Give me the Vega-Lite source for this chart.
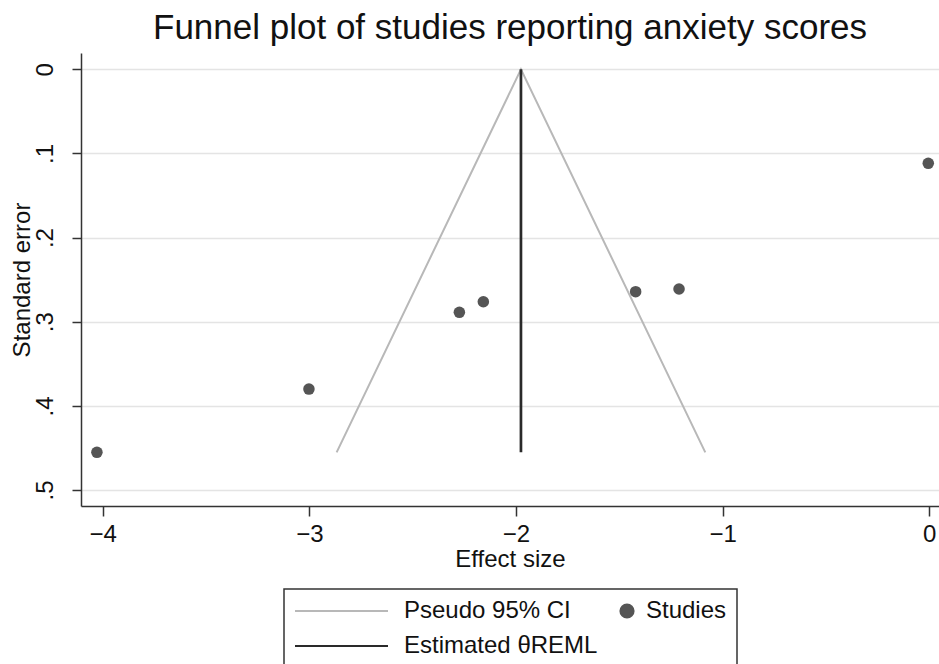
{
  "$schema": "https://vega.github.io/schema/vega-lite/v6.json",
  "width": 858,
  "height": 453,
  "autosize": "none",
  "padding": {"left": 81, "top": 53, "right": 0, "bottom": 158},
  "background": "white",
  "title": {
    "text": "Funnel plot of studies reporting anxiety scores",
    "font": "Liberation Sans",
    "fontSize": 35,
    "fontWeight": "normal",
    "color": "#111111",
    "anchor": "middle",
    "baseline": "alphabetic",
    "offset": -21
  },
  "config": {
    "view": {"stroke": null},
    "font": "Liberation Sans",
    "axis": {
      "labelFont": "Liberation Sans",
      "titleFont": "Liberation Sans",
      "labelFontSize": 24,
      "titleFontSize": 24,
      "titleFontWeight": "normal",
      "labelColor": "#111111",
      "titleColor": "#111111",
      "domainColor": "#333333",
      "domainWidth": 1.5,
      "tickColor": "#333333",
      "tickWidth": 1.5,
      "labelFlush": false,
      "labelOverlap": false,
      "labelBound": false
    }
  },
  "data": {
    "values": [
      {"series": "Studies", "es": -4.028, "se": 0.4552, "ord": 0},
      {"series": "Studies", "es": -3.002, "se": 0.380, "ord": 0},
      {"series": "Studies", "es": -2.274, "se": 0.2888, "ord": 0},
      {"series": "Studies", "es": -2.158, "se": 0.2762, "ord": 0},
      {"series": "Studies", "es": -1.421, "se": 0.2643, "ord": 0},
      {"series": "Studies", "es": -1.211, "se": 0.2611, "ord": 0},
      {"series": "Studies", "es": -0.005, "se": 0.1117, "ord": 0},
      {"series": "Pseudo 95% CI", "es": -2.868, "se": 0.4552, "ord": 1},
      {"series": "Pseudo 95% CI", "es": -1.976, "se": 0.0, "ord": 2},
      {"series": "Pseudo 95% CI", "es": -1.084, "se": 0.4552, "ord": 3},
      {"series": "Estimated θREML", "es": -1.976, "se": 0.0, "ord": 1},
      {"series": "Estimated θREML", "es": -1.976, "se": 0.4552, "ord": 2}
    ]
  },
  "encoding": {
    "x": {
      "field": "es",
      "type": "quantitative",
      "scale": {"domain": [-4.105, 0.047], "nice": false, "zero": false},
      "axis": {
        "title": "Effect size",
        "values": [-4, -3, -2, -1, 0],
        "format": "d",
        "grid": false,
        "tickSize": 10,
        "labelPadding": 6,
        "titlePadding": 1
      }
    },
    "y": {
      "field": "se",
      "type": "quantitative",
      "scale": {"domain": [-0.0194, 0.519], "reverse": true, "nice": false, "zero": false},
      "axis": {
        "title": "Standard error",
        "values": [0, 0.1, 0.2, 0.3, 0.4, 0.5],
        "labelExpr": "datum.value === 0 ? '0' : replace(format(datum.value, '.1f'), '0.', '.')",
        "labelAngle": 270,
        "labelAlign": "center",
        "labelBaseline": "alphabetic",
        "labelPadding": 20,
        "tickSize": 9,
        "grid": true,
        "gridColor": "#e4e4e4",
        "gridWidth": 1.5,
        "titlePadding": 4,
        "titleBaseline": "alphabetic"
      }
    },
    "color": {
      "field": "series",
      "type": "nominal",
      "scale": {
        "domain": ["Pseudo 95% CI", "Studies", "Estimated θREML"],
        "range": ["#b8b8b8", "#555555", "#2a2a2a"]
      },
      "legend": {
        "title": null,
        "orient": "none",
        "legendX": 203,
        "legendY": 536,
        "columns": 2,
        "direction": "horizontal",
        "labelFont": "Liberation Sans",
        "labelFontSize": 24,
        "labelColor": "#111111",
        "labelOffset": 86,
        "symbolSize": 400,
        "symbolType": "stroke",
        "symbolStrokeWidth": 2,
        "rowPadding": 11,
        "columnPadding": 0,
        "padding": 10,
        "strokeColor": "#333333",
        "fillColor": "white",
        "labelLimit": 400,
        "encode": {
          "symbols": {
            "update": {
              "shape": {"signal": "datum.value === 'Studies' ? 'M1.05,0A0.65,0.65 0 1,0 2.35,0A0.65,0.65 0 1,0 1.05,0Z' : 'M-1.1,0H8.2'"},
              "size": {"value": 400},
              "fill": {"signal": "datum.value === 'Studies' ? '#555555' : 'transparent'"},
              "stroke": {"signal": "datum.value === 'Studies' ? 'transparent' : (datum.value === 'Pseudo 95% CI' ? '#b8b8b8' : '#2a2a2a')"},
              "strokeWidth": {"value": 2.2},
              "opacity": {"value": 1}
            }
          },
          "labels": {
            "update": {
              "x": {"signal": "datum.value === 'Studies' ? 48 : 110"}
            }
          },
          "legend": {"update": {"strokeWidth": {"value": 1.5}}}
        }
      }
    }
  },
  "layer": [
    {
      "transform": [{"filter": "datum.series === 'Pseudo 95% CI'"}],
      "mark": {"type": "line", "strokeWidth": 2},
      "encoding": {"order": {"field": "ord", "type": "quantitative"}}
    },
    {
      "transform": [{"filter": "datum.series === 'Estimated θREML'"}],
      "mark": {"type": "line", "strokeWidth": 2.7},
      "encoding": {"order": {"field": "ord", "type": "quantitative"}}
    },
    {
      "transform": [{"filter": "datum.series === 'Studies'"}],
      "mark": {"type": "point", "filled": true, "size": 133, "opacity": 1},
      "encoding": {}
    }
  ]
}
